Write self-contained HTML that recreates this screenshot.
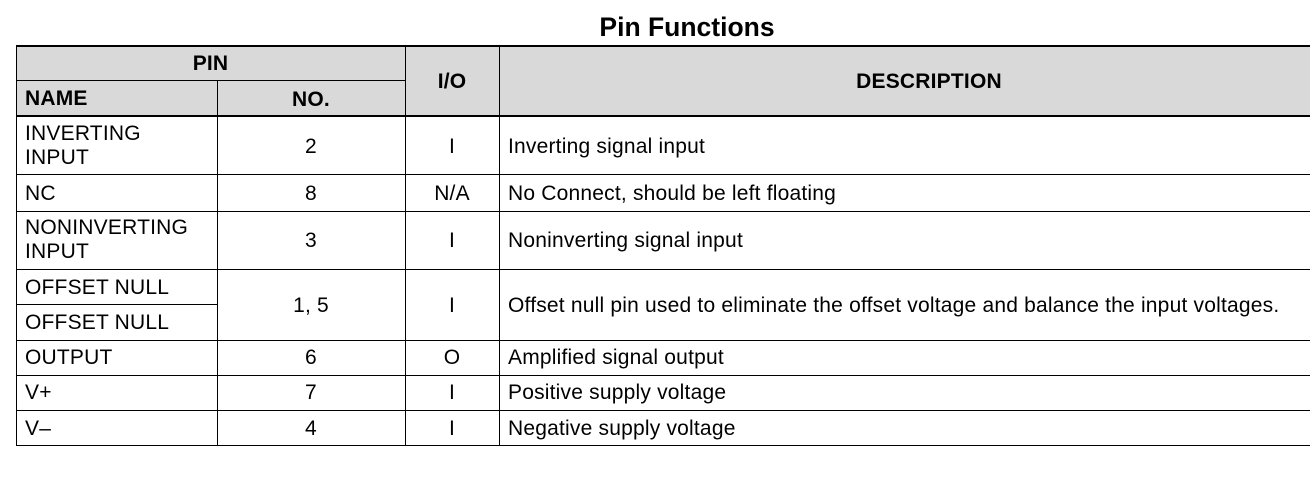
<!DOCTYPE html>
<html><head><meta charset="utf-8"><style>
body{margin:0;width:1310px;height:479px;background:#fff;position:relative;overflow:hidden;font-family:"Liberation Sans",Arial,sans-serif;color:#000}
.h{position:absolute;height:1px;background:#000}
.v{position:absolute;width:1px;background:#000}
.t{position:absolute;font-size:21px;line-height:24px;letter-spacing:0.2px;white-space:nowrap}
.c{text-align:center}
.b{font-weight:bold}
.g{position:absolute;background:#d9d9d9}
</style></head><body>
<div class="t b c" style="left:487px;top:11px;width:400px;font-size:26.5px;line-height:32px;letter-spacing:0">Pin Functions</div>
<div class="g" style="left:16px;top:46px;width:1294px;height:69px"></div>
<div class="h" style="left:16px;top:45px;width:1294px;height:2px"></div>
<div class="h" style="left:16px;top:80px;width:389px"></div>
<div class="h" style="left:16px;top:115px;width:1294px;height:2px"></div>
<div class="h" style="left:16px;top:174px;width:1294px"></div>
<div class="h" style="left:16px;top:211px;width:1294px"></div>
<div class="h" style="left:16px;top:269px;width:1294px"></div>
<div class="h" style="left:16px;top:304px;width:201px"></div>
<div class="h" style="left:16px;top:340px;width:1294px"></div>
<div class="h" style="left:16px;top:375px;width:1294px"></div>
<div class="h" style="left:16px;top:410px;width:1294px"></div>
<div class="h" style="left:16px;top:445px;width:1294px"></div>
<div class="v" style="left:16px;top:45px;height:401px"></div>
<div class="v" style="left:217px;top:80px;height:366px"></div>
<div class="v" style="left:405px;top:45px;height:401px"></div>
<div class="v" style="left:499px;top:45px;height:401px"></div>

<div class="t b c" style="left:16px;top:52px;width:389px">PIN</div>
<div class="t b" style="left:25px;top:87px">NAME</div>
<div class="t b c" style="left:217px;top:88px;width:188px">NO.</div>
<div class="t b c" style="left:405px;top:70px;width:94px">I/O</div>
<div class="t b c" style="left:499px;top:70px;width:860px">DESCRIPTION</div>

<div class="t" style="left:25px;top:122px">INVERTING<br>INPUT</div>
<div class="t c" style="left:217px;top:135px;width:188px">2</div>
<div class="t c" style="left:405px;top:135px;width:94px">I</div>
<div class="t" style="left:508px;top:135px">Inverting signal input</div>

<div class="t" style="left:25px;top:182px">NC</div>
<div class="t c" style="left:217px;top:182px;width:188px">8</div>
<div class="t c" style="left:405px;top:182px;width:94px">N/A</div>
<div class="t" style="left:508px;top:182px">No Connect, should be left floating</div>

<div class="t" style="left:25px;top:216px">NONINVERTING<br>INPUT</div>
<div class="t c" style="left:217px;top:229px;width:188px">3</div>
<div class="t c" style="left:405px;top:229px;width:94px">I</div>
<div class="t" style="left:508px;top:229px">Noninverting signal input</div>

<div class="t" style="left:25px;top:276px">OFFSET NULL</div>
<div class="t" style="left:25px;top:311px">OFFSET NULL</div>
<div class="t c" style="left:217px;top:294px;width:188px">1, 5</div>
<div class="t c" style="left:405px;top:294px;width:94px">I</div>
<div class="t" style="left:508px;top:294px">Offset null pin used to eliminate the offset voltage and balance the input voltages.</div>

<div class="t" style="left:25px;top:346px">OUTPUT</div>
<div class="t c" style="left:217px;top:346px;width:188px">6</div>
<div class="t c" style="left:405px;top:346px;width:94px">O</div>
<div class="t" style="left:508px;top:346px">Amplified signal output</div>

<div class="t" style="left:25px;top:381px">V+</div>
<div class="t c" style="left:217px;top:381px;width:188px">7</div>
<div class="t c" style="left:405px;top:381px;width:94px">I</div>
<div class="t" style="left:508px;top:381px">Positive supply voltage</div>

<div class="t" style="left:25px;top:417px">V–</div>
<div class="t c" style="left:217px;top:417px;width:188px">4</div>
<div class="t c" style="left:405px;top:417px;width:94px">I</div>
<div class="t" style="left:508px;top:417px">Negative supply voltage</div>
</body></html>
